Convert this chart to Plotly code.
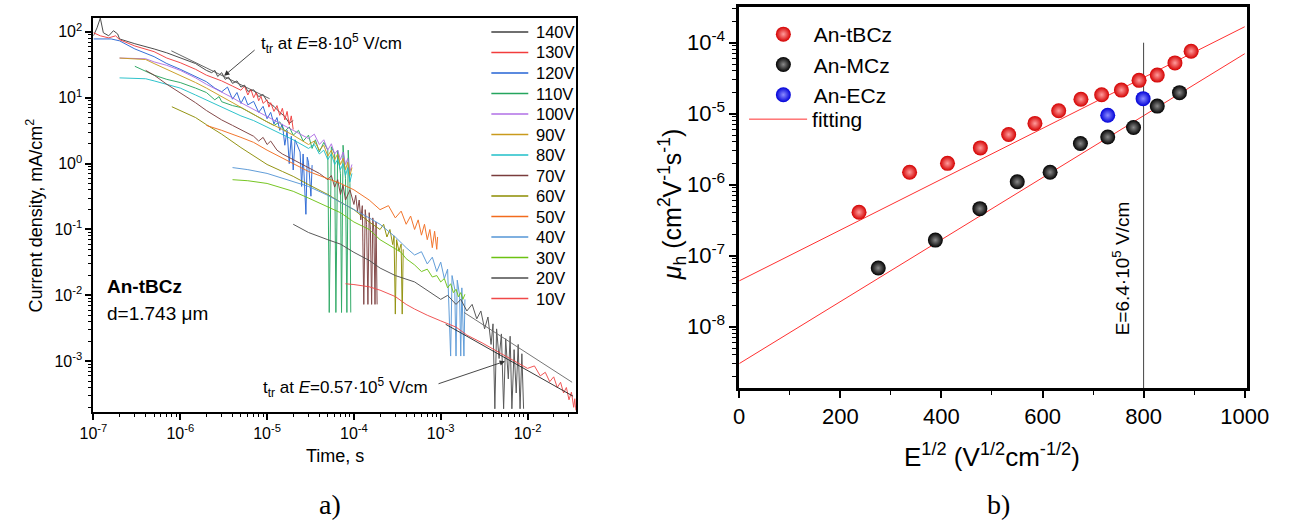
import math
import plotly.graph_objects as go

W, H = 1294, 522


def fx(p):
    return p / W


def fy(p):
    return 1 - p / H


FONT = "Liberation Sans, Arial, sans-serif"

# ---------------- Panel a): transient photocurrents ----------------
t140 = [1.0e-7, 1.1e-7, 1.2e-7, 1.3e-7, 1.5e-7, 1.7e-7, 1.9e-7, 2.0e-7, 3.0e-7, 4.0e-7,
        5.0e-7, 7.0e-7, 1.0e-6, 1.5e-6, 2.0e-6, 2.3e-6, 2.5e-6, 2.7e-6, 3.0e-6, 3.3e-6,
        3.6e-6, 4.0e-6, 4.5e-6, 5.0e-6, 5.5e-6, 6.0e-6, 7.0e-6, 8.0e-6, 9.0e-6, 1.0e-5,
        1.2e-5, 1.4e-5, 1.6e-5, 1.8e-5, 2.0e-5]
J140 = [87, 115, 162, 97, 87, 104, 93, 78, 66, 60,
        55, 48, 40, 33, 26, 24, 26, 21, 24, 19,
        20.5, 16.5, 18, 14.5, 15.5, 12.5, 13.2, 10.4, 11.2, 8.8,
        7.4, 6.0, 5.2, 4.1, 4.5]

t130 = [1.0e-7, 1.2e-7, 1.5e-7, 1.8e-7, 2.0e-7, 3.0e-7, 5.0e-7, 7.0e-7, 1.0e-6, 1.5e-6,
        2.0e-6, 2.5e-6, 3.0e-6, 4.0e-6, 5.0e-6, 5.5e-6, 6.0e-6, 6.5e-6, 7.0e-6, 7.5e-6,
        8.0e-6, 8.5e-6, 9.0e-6, 1.0e-5, 1.05e-5, 1.1e-5, 1.2e-5, 1.3e-5, 1.4e-5, 1.5e-5,
        1.6e-5, 1.7e-5, 1.8e-5, 1.9e-5, 2.0e-5]
J130 = [97, 87, 81, 87, 76, 61, 50, 40, 34, 27,
        22, 20, 18, 15, 13, 15, 11, 13.5, 10, 12,
        9, 10.5, 8.2, 9.3, 7.2, 8.4, 6.2, 7.6, 5.4, 6.9,
        4.6, 6.2, 3.9, 5.3, 3.3]

t120 = [1e-7, 1.6e-7, 2e-7, 3e-7, 5e-7, 7e-7, 1e-6, 1.5e-6, 2e-6, 2.5e-6,
        3e-6, 3.5e-6, 4e-6, 4.5e-6, 5e-6, 5.5e-6, 6e-6, 7e-6, 8e-6, 9e-6,
        1e-5, 1.1e-5, 1.2e-5, 1.3e-5, 1.4e-5, 1.5e-5, 1.6e-5, 1.7e-5, 1.8e-5, 1.9e-5,
        2e-5, 2.1e-5, 2.2e-5, 2.4e-5, 2.5e-5, 2.6e-5, 2.8e-5, 2.9e-5, 3e-5, 3.2e-5,
        3.3e-5]
J120 = [78, 78, 73, 55, 42, 33, 27, 21, 17.5, 14,
        12.3, 14.5, 9.5, 12, 8.2, 10.5, 7.8, 8.8, 6.0, 7.4,
        4.8, 6.0, 4.0, 5.0, 3.2, 4.0, 1.9, 3.2, 1.0, 2.6,
        0.8, 2.3, 2.0, 1.5, 0.45, 1.4, 0.17, 1.25, 1.05, 0.32,
        0.95]

t110 = [3e-7, 5e-7, 7e-7, 1e-6, 1.5e-6, 2e-6, 2.5e-6, 2.8e-6, 3e-6, 4e-6,
        5e-6, 6e-6, 7e-6, 8e-6, 1e-5, 1.2e-5, 1.4e-5, 1.6e-5, 1.8e-5, 2e-5,
        2.3e-5, 2.6e-5, 3e-5, 3.3e-5, 3.6e-5, 4e-5, 4.5e-5, 5e-5, 5.2e-5, 5.5e-5,
        6e-5, 6.2e-5, 6.5e-5, 7e-5, 7.2e-5, 7.5e-5, 8e-5, 8.3e-5, 8.6e-5, 9e-5,
        9.2e-5]
J110 = [30, 22, 19, 17, 14, 12, 9.3, 10.4, 8.7, 7.6,
        7.1, 6.2, 5.5, 5.0, 4.3, 3.8, 4.3, 3.1, 3.6, 2.7,
        3.2, 2.2, 2.7, 1.7, 2.3, 1.5, 2.1, 1.6, 0.0055, 1.8,
        1.4, 0.0055, 1.6, 0.7, 0.0055, 1.9, 0.6, 0.0055, 1.6, 0.5,
        0.0055]

t100 = [2e-7, 4e-7, 5e-7, 7e-7, 1e-6, 1.5e-6, 2e-6, 3e-6, 4e-6, 5e-6,
        7e-6, 1e-5, 1.5e-5, 2e-5, 3e-5, 3.5e-5, 4e-5, 4.5e-5, 5e-5, 5.5e-5,
        6e-5, 6.5e-5, 7e-5, 7.5e-5, 8e-5, 8.5e-5, 9e-5, 9.5e-5]
J100 = [40, 39, 35, 31, 26, 20, 16, 12.3, 10, 8.4,
        6.6, 5.2, 3.9, 3.2, 2.4, 2.8, 1.95, 2.3, 1.6, 2.0,
        1.4, 1.6, 1.15, 1.5, 0.97, 1.2, 0.76, 0.97]

t90 = [2e-7, 4e-7, 5e-7, 7e-7, 1e-6, 1.5e-6, 2e-6, 3e-6, 4e-6, 5e-6,
       7e-6, 1e-5, 1.5e-5, 2e-5, 3e-5, 3.5e-5, 4e-5, 4.5e-5, 5e-5, 5.5e-5,
       6e-5, 6.5e-5, 7e-5, 7.5e-5, 8e-5, 8.5e-5, 9e-5, 9.5e-5]
J90 = [40, 38, 33, 27, 22, 17, 14, 10.4, 8.4, 7.1,
       5.7, 4.3, 3.3, 2.7, 1.95, 2.2, 1.6, 1.9, 1.3, 1.6,
       1.15, 1.4, 0.97, 1.2, 0.81, 1.05, 0.66, 0.87]

t80 = [2e-7, 4e-7, 5e-7, 7e-7, 1e-6, 1.5e-6, 2e-6, 3e-6, 4e-6, 5e-6,
       7e-6, 1e-5, 1.5e-5, 2e-5, 3e-5, 3.5e-5, 4e-5, 4.5e-5, 5e-5, 5.5e-5,
       6e-5, 6.5e-5, 7e-5, 7.5e-5, 8e-5, 8.5e-5, 9e-5, 9.5e-5]
J80 = [20, 19.4, 18, 16, 14, 11, 9.3, 7.3, 6.2, 5.3,
       4.5, 3.6, 2.8, 2.3, 1.7, 1.95, 1.4, 1.6, 1.15, 1.4,
       0.97, 1.15, 0.81, 1.0, 0.66, 0.87, 0.53, 0.71]

t70 = [4e-7, 5e-7, 7e-7, 1e-6, 1.5e-6, 2e-6, 3e-6, 4e-6, 5e-6, 7e-6,
       8e-6, 9e-6, 1e-5, 1.1e-5, 1.3e-5, 1.5e-5, 2e-5, 3e-5, 4e-5, 5e-5,
       5.5e-5, 6e-5, 6.5e-5, 7e-5, 7.5e-5, 8e-5, 9e-5, 1e-4, 1.05e-4, 1.1e-4,
       1.15e-4, 1.2e-4, 1.25e-4, 1.3e-4, 1.35e-4, 1.4e-4, 1.45e-4, 1.5e-4, 1.55e-4, 1.6e-4,
       1.65e-4, 1.7e-4, 1.75e-4, 1.8e-4, 1.85e-4]
J70 = [26, 22, 16, 12, 8.4, 6.4, 4.6, 3.8, 3.3, 2.6,
       2.2, 2.5, 1.95, 2.2, 1.6, 1.4, 1.15, 0.87, 0.71, 0.57,
       0.66, 0.44, 0.57, 0.34, 0.47, 0.28, 0.40, 0.24, 0.33, 0.19,
       0.28, 0.14, 0.23, 0.0073, 0.2, 0.12, 0.0073, 0.18, 0.10, 0.0073,
       0.15, 0.094, 0.0073, 0.13, 0.0073]

t60 = [8e-7, 1e-6, 1.5e-6, 2e-6, 3e-6, 5e-6, 7e-6, 1e-5, 1.5e-5, 2e-5,
       3e-5, 5e-5, 7e-5, 1e-4, 1.5e-4, 2e-4, 2.2e-4, 2.4e-4, 2.6e-4, 2.8e-4,
       2.9e-4, 3.0e-4, 3.1e-4, 3.3e-4, 3.5e-4, 3.6e-4, 3.7e-4]
J60 = [7.3, 6.4, 5.0, 3.9, 2.8, 1.75, 1.3, 0.97, 0.76, 0.64,
       0.48, 0.34, 0.26, 0.20, 0.13, 0.10, 0.12, 0.077, 0.10, 0.059,
       0.08, 0.0052, 0.07, 0.047, 0.06, 0.0052, 0.05]

t50 = [2e-6, 3e-6, 5e-6, 7e-6, 1e-5, 1.5e-5, 2e-5, 3e-5, 5e-5, 7e-5,
       1e-4, 1.5e-4, 2e-4, 2.5e-4, 3e-4, 3.5e-4, 4e-4, 4.5e-4, 5e-4, 5.5e-4,
       6e-4, 6.5e-4, 7e-4, 7.5e-4, 8e-4, 8.5e-4, 9e-4, 9.2e-4]
J50 = [3.8, 3.2, 2.5, 2.1, 1.6, 1.2, 1.0, 0.76, 0.60, 0.50,
       0.40, 0.28, 0.20, 0.23, 0.15, 0.19, 0.12, 0.16, 0.10, 0.14,
       0.082, 0.12, 0.07, 0.10, 0.053, 0.094, 0.050, 0.077]

t40 = [4e-6, 6e-6, 1e-5, 2e-5, 3e-5, 5e-5, 7e-5, 1e-4, 1.5e-4, 2e-4,
       3e-4, 4e-4, 5e-4, 6e-4, 7e-4, 8e-4, 9e-4, 1e-3, 1.1e-3, 1.2e-3,
       1.3e-3, 1.35e-3, 1.45e-3, 1.5e-3, 1.55e-3, 1.65e-3, 1.7e-3, 1.75e-3, 1.85e-3, 1.9e-3]
J40 = [0.87, 0.81, 0.71, 0.53, 0.45, 0.33, 0.26, 0.20, 0.15, 0.12,
       0.077, 0.053, 0.041, 0.046, 0.030, 0.038, 0.023, 0.032, 0.018, 0.025,
       0.0012, 0.02, 0.0124, 0.0012, 0.017, 0.010, 0.0012, 0.013, 0.0012, 0.0087]

t30 = [4e-6, 6e-6, 1e-5, 2e-5, 3e-5, 5e-5, 7e-5, 1e-4, 1.5e-4, 2e-4,
       3e-4, 3.5e-4, 4e-4, 5e-4, 6e-4, 7e-4, 8e-4, 9e-4, 1e-3, 1.1e-3,
       1.2e-3, 1.3e-3, 1.4e-3, 1.5e-3, 1.6e-3, 1.7e-3, 1.8e-3, 1.9e-3]
J30 = [0.57, 0.55, 0.50, 0.38, 0.30, 0.22, 0.18, 0.13, 0.10, 0.07,
       0.05, 0.045, 0.036, 0.029, 0.023, 0.025, 0.019, 0.02, 0.016, 0.018,
       0.013, 0.015, 0.011, 0.0124, 0.0095, 0.011, 0.0087, 0.0104]

t20 = [2e-5, 3e-5, 5e-5, 7e-5, 1e-4, 1.5e-4, 2e-4, 3e-4, 5e-4, 7e-4,
       1e-3, 1.2e-3, 1.5e-3, 1.7e-3, 2e-3, 2.3e-3, 2.6e-3, 2.9e-3, 3.2e-3, 3.5e-3,
       3.8e-3, 4e-3, 4.2e-3, 4.4e-3, 4.7e-3, 5e-3, 5.3e-3, 5.6e-3, 6e-3, 6.3e-3,
       6.6e-3, 7e-3, 7.4e-3, 7.8e-3, 8.2e-3, 8.6e-3, 9e-3]
J20 = [0.12, 0.09, 0.07, 0.06, 0.045, 0.034, 0.026, 0.02, 0.016, 0.012,
       0.0087, 0.01, 0.0073, 0.0087, 0.0058, 0.0073, 0.0044, 0.0058, 0.0031, 0.0047,
       0.0018, 0.0037, 0.00019, 0.0031, 0.0011, 0.0026, 0.00019, 0.0022, 0.00054, 0.0024,
       0.00019, 0.0015, 0.00033, 0.0018, 0.00019, 0.0013, 0.00019]

t10 = [8e-5, 1e-4, 1.5e-4, 2e-4, 3e-4, 4e-4, 5e-4, 7e-4, 1e-3, 1.5e-3,
       2e-3, 3e-3, 5e-3, 7e-3, 1e-2, 1.2e-2, 1.4e-2, 1.6e-2, 1.8e-2, 2e-2,
       2.2e-2, 2.4e-2, 2.6e-2, 2.8e-2, 3e-2, 3.2e-2, 3.4e-2, 3.5e-2, 3.6e-2]
J10 = [0.015, 0.0146, 0.0135, 0.012, 0.0096, 0.0073, 0.0062, 0.005, 0.0041, 0.0033,
       0.0025, 0.0019, 0.0013, 0.001, 0.00078, 0.00085, 0.0006, 0.00068, 0.00049, 0.00058,
       0.0004, 0.00048, 0.00033, 0.0004, 0.00026, 0.00034, 0.0002, 0.00027, 0.00018]

voltages = ["140V", "130V", "120V", "110V", "100V", "90V", "80V",
            "70V", "60V", "50V", "40V", "30V", "20V", "10V"]
times = [t140, t130, t120, t110, t100, t90, t80, t70, t60, t50, t40, t30, t20, t10]
currents = [J140, J130, J120, J110, J100, J90, J80, J70, J60, J50, J40, J30, J20, J10]
line_colors = ["#3f3f3f", "#f23c3c", "#2563d4", "#24a55e", "#b06fe6", "#c99a1c", "#1fbfc8",
               "#7a3c3c", "#8c8c00", "#f26b1d", "#5596d6", "#6cc212", "#4d4d4d", "#f04848"]

# tangent (asymptote) lines used to read transit times
tan_hi_t = [7.9e-7, 1.07e-5]
tan_hi_J = [51.5, 9.66]
tan_lo1_t = [1.86e-3, 3.26e-2]
tan_lo1_J = [5.5e-3, 4.8e-4]
tan_lo2_t = [1.14e-3, 3.34e-2]
tan_lo2_J = [3.64e-3, 2.95e-4]

# ---------------- Panel b): mobility vs sqrt(E) ----------------
sqrtE_tBCz = [237, 337, 412, 477, 533, 585, 632, 676, 717, 756, 791, 827, 862, 894]
mu_tBCz = [4.1e-7, 1.5e-6, 2.0e-6, 3.3e-6, 5.1e-6, 7.3e-6, 1.1e-5, 1.6e-5, 1.85e-5,
           2.15e-5, 2.95e-5, 3.5e-5, 5.2e-5, 7.6e-5]
sqrtE_MCz = [275, 388, 476, 550, 615, 675, 729, 780, 827, 871]
mu_MCz = [6.7e-8, 1.66e-7, 4.6e-7, 1.1e-6, 1.5e-6, 3.8e-6, 4.7e-6, 6.4e-6, 1.28e-5, 1.98e-5]
sqrtE_ECz = [729, 799]
mu_ECz = [9.5e-6, 1.63e-5]

# Poole-Frenkel fits: log10(mu) = a + b*sqrt(E)
fit_tBCz = (-7.354, 3.579e-3)
fit_MCz = (-8.519, 4.364e-3)
fit_range = [0, 1000]
E_marker = 800  # sqrt(6.4e5)

fig = go.Figure()

for name, t, j, c in zip(voltages, times, currents, line_colors):
    fig.add_trace(go.Scatter(x=t, y=j, mode="lines", name=name,
                             line=dict(color=c, width=1), opacity=0.92, showlegend=False,
                             xaxis="x", yaxis="y"))

for tt, jj, col in [(tan_hi_t, tan_hi_J, "#555555"), (tan_lo1_t, tan_lo1_J, "#666666"),
                    (tan_lo2_t, tan_lo2_J, "#222222")]:
    fig.add_trace(go.Scatter(x=tt, y=jj, mode="lines", line=dict(color=col, width=0.9),
                             showlegend=False, xaxis="x", yaxis="y", hoverinfo="skip"))

# fitting lines
for i, (a, b) in enumerate([fit_tBCz, fit_MCz]):
    fig.add_trace(go.Scatter(x=fit_range, y=[10 ** (a + b * v) for v in fit_range],
                             mode="lines", name="fitting", line=dict(color="#ff3030", width=1),
                             showlegend=(i == 0), xaxis="x2", yaxis="y2", legend="legend3"))

# vertical marker line
fig.add_trace(go.Scatter(x=[E_marker, E_marker], y=[1e-4, 1e-10], mode="lines",
                         line=dict(color="#444444", width=1), showlegend=False,
                         xaxis="x2", yaxis="y2", hoverinfo="skip"))

for name, xs, ys, edge, center in [("An-tBCz", sqrtE_tBCz, mu_tBCz, "#d40000", "#ff9c9c"),
                                   ("An-MCz", sqrtE_MCz, mu_MCz, "#000000", "#8a8a8a"),
                                   ("An-ECz", sqrtE_ECz, mu_ECz, "#0000d8", "#8c8cff")]:
    fig.add_trace(go.Scatter(x=xs, y=ys, mode="markers", name=name,
                             marker=dict(size=15, color=edge, line=dict(width=0),
                                         gradient=dict(type="radial", color=center)),
                             xaxis="x2", yaxis="y2", legend="legend2"))


def sup(n):
    return "10<sup>%d</sup>" % n


xa_major = [10.0 ** e for e in range(-7, -1)]
xa_minor = [k * 10.0 ** e for e in range(-7, -1) for k in range(2, 10) if k * 10.0 ** e < 0.036]
ya_major = [10.0 ** e for e in range(-3, 3)]
ya_minor = [k * 10.0 ** e for e in range(-4, 3) for k in range(2, 10)
            if 1.7e-4 < k * 10.0 ** e < 160]
yb_major = [10.0 ** e for e in range(-8, -3)]
yb_minor = [k * 10.0 ** e for e in range(-9, -3) for k in range(2, 10)
            if 1.4e-9 < k * 10.0 ** e < 3.1e-4]

axis_common = dict(showgrid=False, zeroline=False, showline=True, linecolor="black",
                   mirror=True, ticks="outside", tickcolor="black")

fig.update_layout(
    width=W, height=H, margin=dict(l=0, r=0, t=0, b=0),
    paper_bgcolor="white", plot_bgcolor="white",
    font=dict(family=FONT, color="black"),
    xaxis=dict(type="log", domain=[fx(81.7), fx(578)], range=[-7, -1.443], anchor="y",
               linewidth=2, ticklen=6, tickwidth=1.5,
               tickvals=xa_major, ticktext=[sup(e) for e in range(-7, -1)],
               tickfont=dict(size=16, family=FONT),
               minor=dict(tickvals=xa_minor, ticks="outside", ticklen=3, tickwidth=1,
                          tickcolor="black"),
               **axis_common),
    yaxis=dict(type="log", domain=[fy(412), fy(18)], range=[-3.77, 2.21], anchor="x",
               linewidth=2, ticklen=6, tickwidth=1.5,
               tickvals=ya_major, ticktext=[sup(e) for e in range(-3, 3)],
               tickfont=dict(size=16, family=FONT),
               minor=dict(tickvals=ya_minor, ticks="outside", ticklen=3, tickwidth=1,
                          tickcolor="black"),
               **axis_common),
    xaxis2=dict(type="linear", domain=[fx(746), fx(1268)], range=[0, 1004], anchor="y2",
                linewidth=2.5, ticklen=7, tickwidth=1.5, tick0=0, dtick=200,
                tickfont=dict(size=22, family=FONT),
                minor=dict(dtick=100, tick0=0, ticks="outside", ticklen=4, tickwidth=1,
                           tickcolor="black"),
                **axis_common),
    yaxis2=dict(type="log", domain=[fy(388), fy(7)], range=[-8.863, -3.497], anchor="x2",
                linewidth=2.5, ticklen=7, tickwidth=1.5,
                tickvals=yb_major, ticktext=[sup(e) for e in range(-8, -3)],
                tickfont=dict(size=22, family=FONT),
                minor=dict(tickvals=yb_minor, ticks="outside", ticklen=4, tickwidth=1,
                           tickcolor="black"),
                **axis_common),
    legend2=dict(x=fx(760), y=fy(14), xanchor="left", yanchor="top",
                 bgcolor="rgba(0,0,0,0)", borderwidth=0, font=dict(size=21, family=FONT),
                 itemwidth=51, tracegroupgap=0),
    legend3=dict(x=fx(751), y=fy(99), xanchor="left", yanchor="top",
                 bgcolor="rgba(0,0,0,0)", borderwidth=0, font=dict(size=21, family=FONT),
                 itemwidth=58),
)

ann = []
shapes = []
# manual legend for panel a
for i, (name, c) in enumerate(zip(voltages, line_colors)):
    yc = 32 + 20.5 * i
    shapes.append(dict(type="line", xref="paper", yref="paper", x0=fx(491), x1=fx(529),
                       y0=fy(yc), y1=fy(yc), line=dict(color=c, width=1.5)))
    ann.append(dict(xref="paper", yref="paper", x=fx(535), y=fy(yc), xanchor="left",
                    yanchor="middle", text=name, showarrow=False,
                    font=dict(size=16.5, family=FONT)))

# panel a texts
ann.append(dict(xref="paper", yref="paper", x=fx(252), y=fy(43), xanchor="left", yanchor="middle",
                text="t<sub>tr</sub> at <i>E</i>=8·10<sup>5</sup> V/cm", showarrow=False,
                font=dict(size=17, family=FONT)))
ann.append(dict(xref="x", yref="y", x=math.log10(3.2e-6), y=math.log10(21.5), text="",
                showarrow=True, arrowhead=2, arrowsize=1.2, arrowwidth=0.9, arrowcolor="#333333",
                axref="pixel", ayref="pixel", ax=32, ay=-27, standoff=0))
ann.append(dict(xref="paper", yref="paper", x=fx(254), y=fy(387), xanchor="left", yanchor="middle",
                text="t<sub>tr</sub> at <i>E</i>=0.57·10<sup>5</sup> V/cm", showarrow=False,
                font=dict(size=17, family=FONT)))
ann.append(dict(xref="x", yref="y", x=math.log10(5.5e-3), y=math.log10(1.0e-3), text="",
                showarrow=True, arrowhead=2, arrowsize=1.2, arrowwidth=0.9, arrowcolor="#333333",
                axref="pixel", ayref="pixel", ax=-68, ay=23, standoff=0))
ann.append(dict(xref="paper", yref="paper", x=fx(94), y=fy(286), xanchor="left", yanchor="middle",
                text="<b>An-tBCz</b>", showarrow=False, font=dict(size=19, family=FONT)))
ann.append(dict(xref="paper", yref="paper", x=fx(94), y=fy(313), xanchor="left", yanchor="middle",
                text="d=1.743 μm", showarrow=False, font=dict(size=19, family=FONT)))
ann.append(dict(xref="paper", yref="paper", x=fx(22), y=fy(215), xanchor="center", yanchor="middle",
                text="Current density, mA/cm<sup>2</sup>", textangle=-90, showarrow=False,
                font=dict(size=18, family=FONT)))
ann.append(dict(xref="paper", yref="paper", x=fx(330), y=fy(456), xanchor="center", yanchor="middle",
                text="Time, s", showarrow=False, font=dict(size=18, family=FONT)))
ann.append(dict(xref="paper", yref="paper", x=fx(325), y=fy(504), xanchor="center", yanchor="middle",
                text="a)", showarrow=False,
                font=dict(size=28, family="Liberation Serif, Times New Roman, serif")))
# panel b texts
ann.append(dict(xref="paper", yref="paper", x=fx(677), y=fy(205), xanchor="center", yanchor="middle",
                text="<i>μ</i><sub>h</sub> (cm<sup>2</sup>V<sup>-1</sup>s<sup>-1</sup>)",
                textangle=-90, showarrow=False, font=dict(size=25, family=FONT)))
ann.append(dict(xref="paper", yref="paper", x=fx(1006), y=fy(455), xanchor="center", yanchor="middle",
                text="E<sup>1/2</sup> (V<sup>1/2</sup>cm<sup>-1/2</sup>)", showarrow=False,
                font=dict(size=26, family=FONT)))
ann.append(dict(xref="paper", yref="paper", x=fx(1013), y=fy(504), xanchor="center", yanchor="middle",
                text="b)", showarrow=False,
                font=dict(size=28, family="Liberation Serif, Times New Roman, serif")))
ann.append(dict(xref="paper", yref="paper", x=fx(1139), y=fy(268), xanchor="center", yanchor="middle",
                text="E=6.4·10<sup>5</sup> V/cm", textangle=-90, showarrow=False,
                font=dict(size=19, family=FONT)))

fig.update_layout(annotations=ann, shapes=shapes)

fig.write_html("out.html", config={"displayModeBar": False},
               post_script="document.body.style.margin='0';document.body.style.overflow='hidden';")
